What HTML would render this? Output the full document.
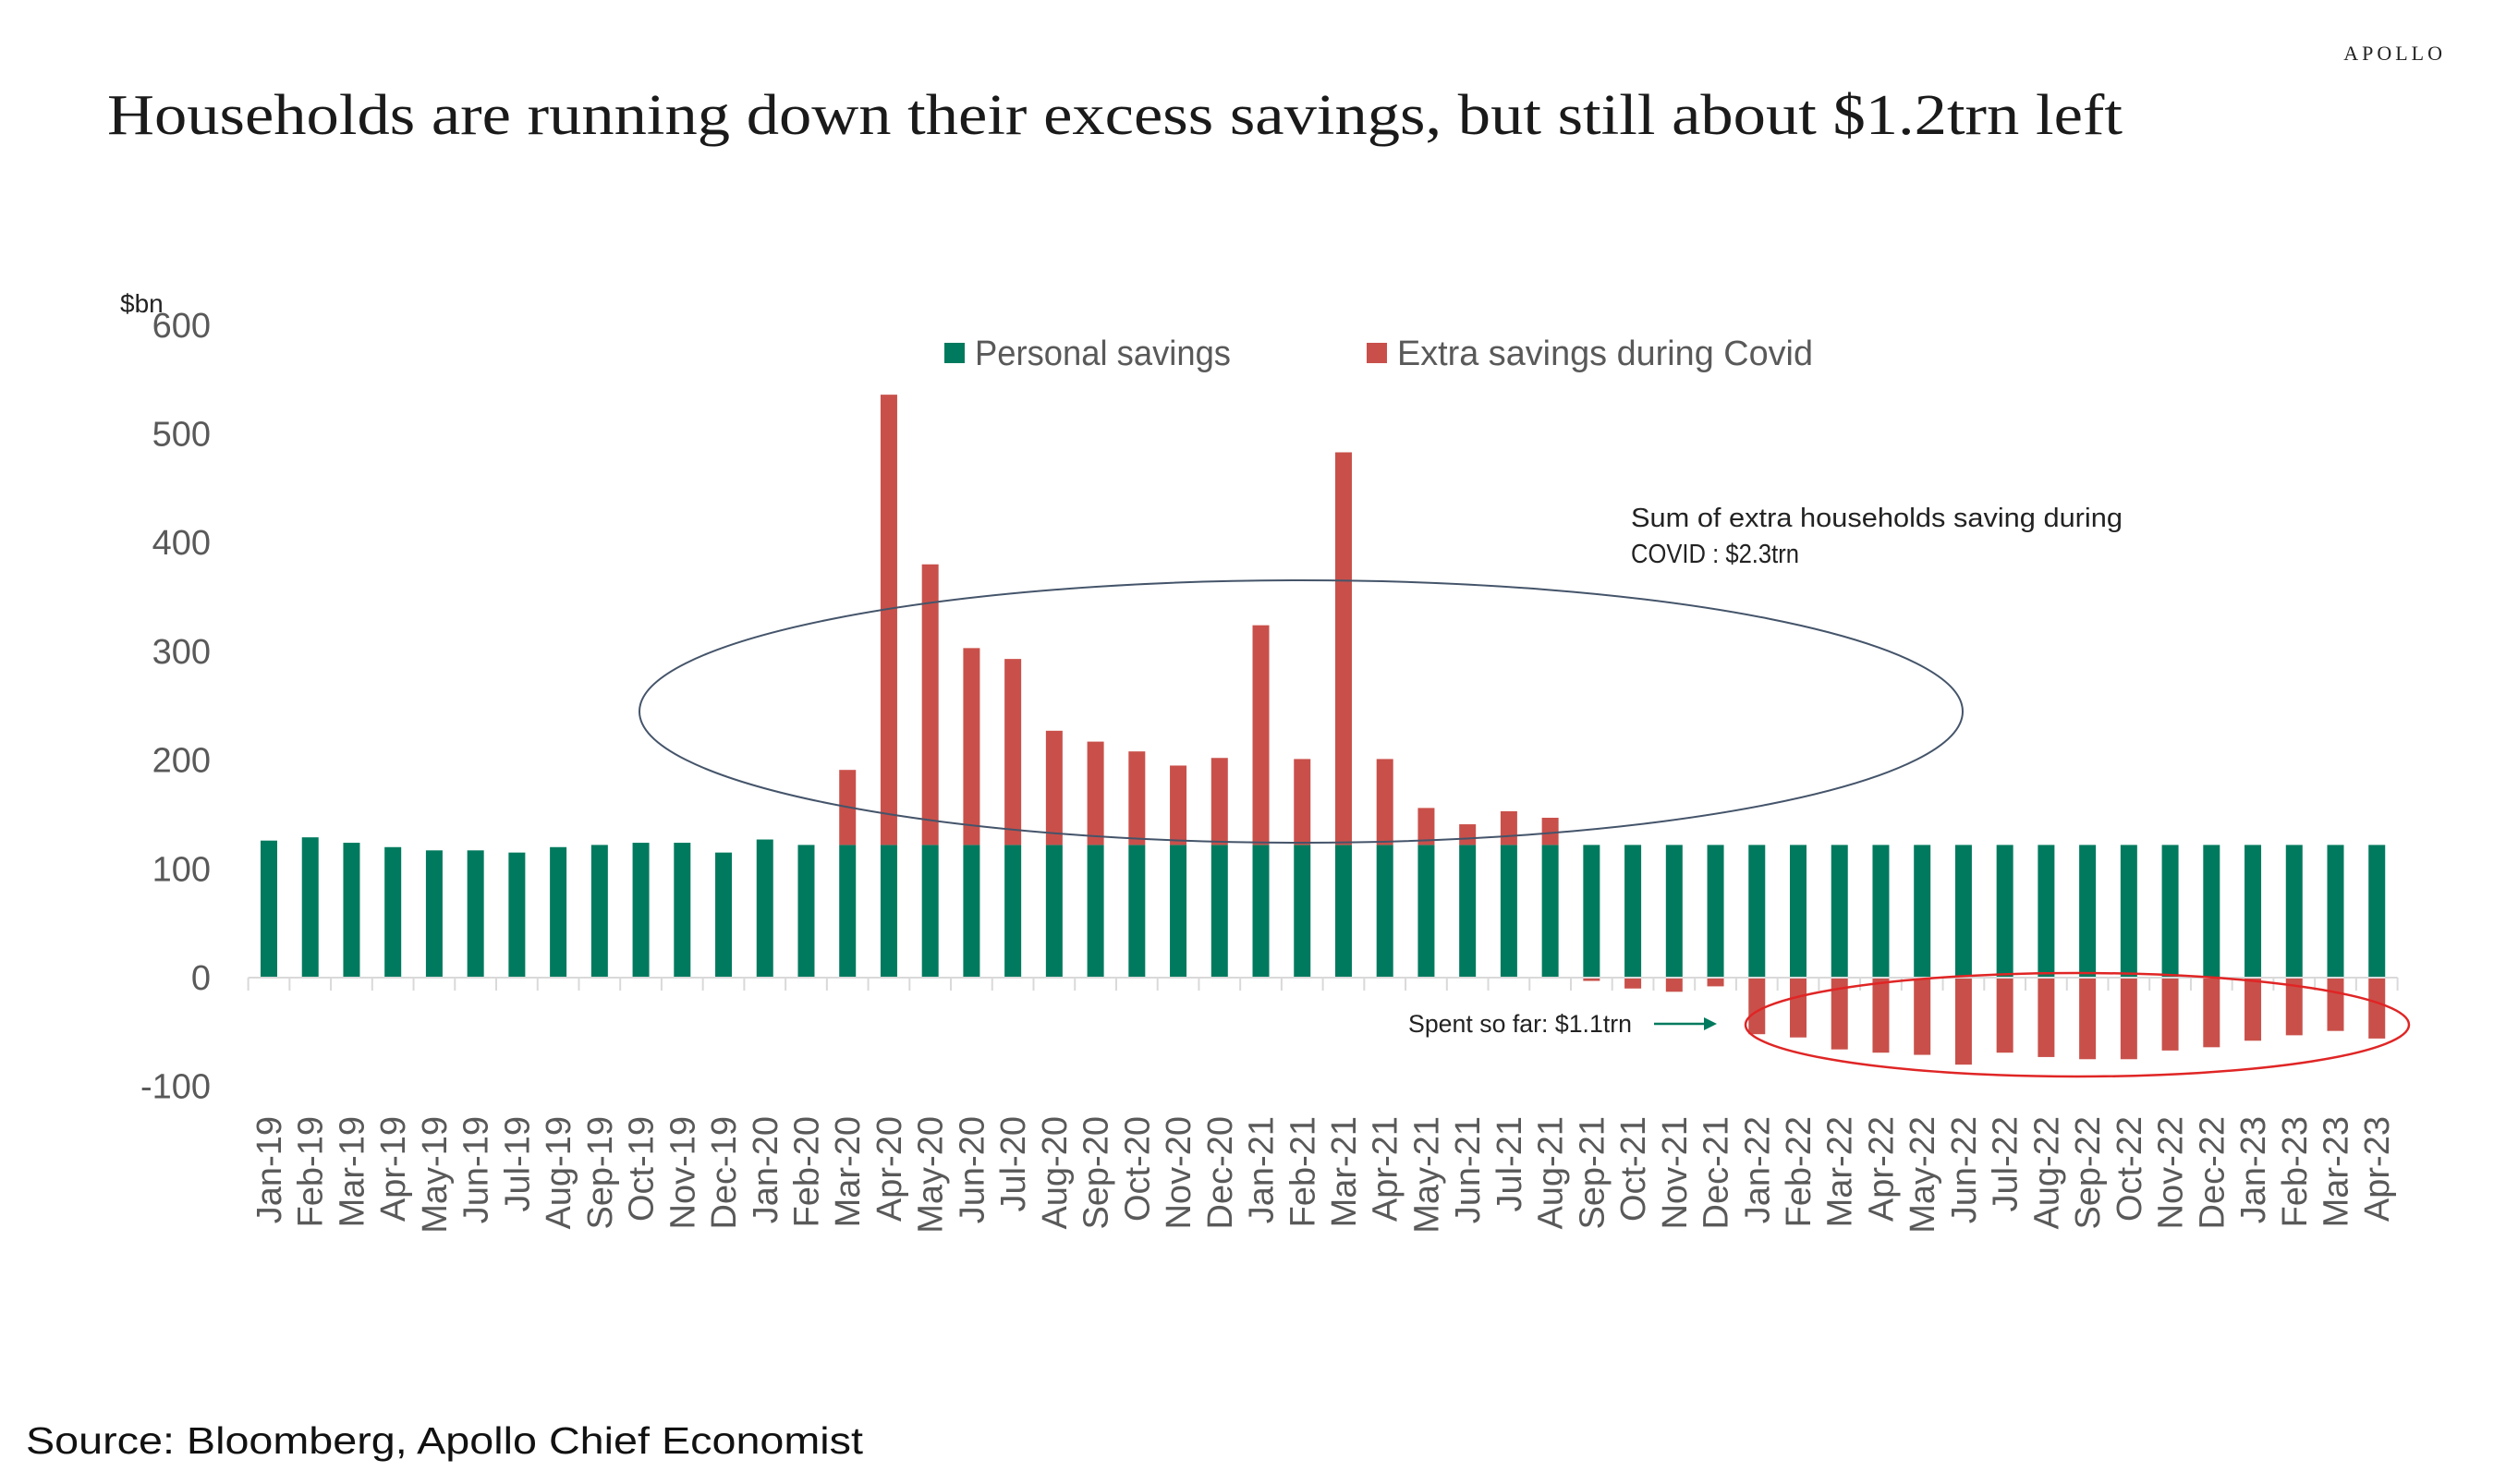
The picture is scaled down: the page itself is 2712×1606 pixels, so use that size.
<!DOCTYPE html>
<html><head><meta charset="utf-8">
<style>
html,body{margin:0;padding:0;background:#fff;}
svg{display:block;}
</style></head>
<body>
<svg id="chart" width="2712" height="1606" viewBox="0 0 2712 1606" xmlns="http://www.w3.org/2000/svg">
<text x="2647" y="65" text-anchor="end" font-family="Liberation Serif, serif" font-size="22" letter-spacing="4" fill="#222">APOLLO</text>
<text x="116" y="145" font-family="Liberation Serif, serif" font-size="62" fill="#1a1a1a" textLength="2181" lengthAdjust="spacingAndGlyphs">Households are running down their excess savings, but still about $1.2trn left</text>
<text x="130" y="338" font-family="Liberation Sans, sans-serif" font-size="28" fill="#222">$bn</text>
<g id="yticks"></g>
<g id="bars"></g>
<g id="xaxis"></g>
<g>
<rect x="1022" y="371" width="22" height="22" fill="#007a5e"/>
<text x="1055" y="395" font-family="Liberation Sans, sans-serif" font-size="38" fill="#595959" textLength="277" lengthAdjust="spacingAndGlyphs">Personal savings</text>
<rect x="1479" y="371" width="22" height="22" fill="#c9504a"/>
<text x="1512" y="395" font-family="Liberation Sans, sans-serif" font-size="38" fill="#595959" textLength="450" lengthAdjust="spacingAndGlyphs">Extra savings during Covid</text>
</g>
<ellipse cx="1408" cy="770" rx="716" ry="142" fill="none" stroke="#44546a" stroke-width="2"/>
<ellipse cx="2248" cy="1109" rx="359" ry="56" fill="none" stroke="#e02525" stroke-width="2.5"/>
<text x="1765" y="570" font-family="Liberation Sans, sans-serif" font-size="29" fill="#222" textLength="532" lengthAdjust="spacingAndGlyphs">Sum of extra households saving during</text>
<text x="1765" y="609" font-family="Liberation Sans, sans-serif" font-size="29" fill="#222" textLength="182" lengthAdjust="spacingAndGlyphs">COVID : $2.3trn</text>
<text x="1524" y="1117" font-family="Liberation Sans, sans-serif" font-size="27" fill="#222" textLength="242" lengthAdjust="spacingAndGlyphs">Spent so far: $1.1trn</text>
<g>
<line x1="1790" y1="1108" x2="1848" y2="1108" stroke="#007a5e" stroke-width="2.5"/>
<polygon points="1858,1108 1844,1101 1844,1115" fill="#007a5e"/>
</g>
<text x="28" y="1573" font-family="Liberation Sans, sans-serif" font-size="41" fill="#111" textLength="906" lengthAdjust="spacingAndGlyphs">Source: Bloomberg, Apollo Chief Economist</text>
</svg>
<script>
const categories = ["Jan-19","Feb-19","Mar-19","Apr-19","May-19","Jun-19","Jul-19","Aug-19","Sep-19","Oct-19","Nov-19","Dec-19","Jan-20","Feb-20","Mar-20","Apr-20","May-20","Jun-20","Jul-20","Aug-20","Sep-20","Oct-20","Nov-20","Dec-20","Jan-21","Feb-21","Mar-21","Apr-21","May-21","Jun-21","Jul-21","Aug-21","Sep-21","Oct-21","Nov-21","Dec-21","Jan-22","Feb-22","Mar-22","Apr-22","May-22","Jun-22","Jul-22","Aug-22","Sep-22","Oct-22","Nov-22","Dec-22","Jan-23","Feb-23","Mar-23","Apr-23"];
const personalSavings = [126,129,124,120,117,117,115,120,122,124,124,115,127,122,122,122,122,122,122,122,122,122,122,122,122,122,122,122,122,122,122,122,122,122,122,122,122,122,122,122,122,122,122,122,122,122,122,122,122,122,122,122];
const extraSavings = [0,0,0,0,0,0,0,0,0,0,0,0,0,0,69,414,258,181,171,105,95,86,73,80,202,79,361,79,34,19,31,25,-3,-10,-13,-8,-52,-55,-66,-69,-71,-80,-69,-73,-75,-75,-67,-64,-58,-53,-49,-56];
const yTicks = [-100,0,100,200,300,400,500,600];

const NS = "http://www.w3.org/2000/svg";
const zeroY = 1058, perUnit = 1.177;
const x0 = 291, step = 44.73, barW = 18;
function yScale(v){ return zeroY - v*perUnit; }
function xScale(i){ return x0 + i*step; }
function mk(tag, attrs){ const e=document.createElementNS(NS,tag); for(const k in attrs) e.setAttribute(k,attrs[k]); return e; }

const yg = document.getElementById('yticks');
yTicks.forEach(v=>{
  const t = mk('text',{x:228,y:yScale(v)+13,'text-anchor':'end','font-family':'Liberation Sans, sans-serif','font-size':38,fill:'#595959'});
  
  
  t.textContent = v;
  yg.appendChild(t);
});

const bg = document.getElementById('bars');
categories.forEach((c,i)=>{
  const cx = xScale(i);
  const p = personalSavings[i];
  const g = mk('rect',{x:cx-barW/2,y:yScale(p),width:barW,height:yScale(0)-yScale(p),fill:'#007a5e'});
  
  
  bg.appendChild(g);
  const e = extraSavings[i];
  if(e>0){
    const r = mk('rect',{x:cx-barW/2,y:yScale(p+e),width:barW,height:yScale(p)-yScale(p+e),fill:'#c9504a'});
    
    
    bg.appendChild(r);
  } else if(e<0){
    const r = mk('rect',{x:cx-barW/2,y:yScale(0),width:barW,height:yScale(e)-yScale(0),fill:'#c9504a'});
    
    
    bg.appendChild(r);
  }
});

const xg = document.getElementById('xaxis');
const axisL = xScale(0)-step/2, axisR = xScale(categories.length-1)+step/2;
const ax = mk('line',{x1:axisL,y1:zeroY,x2:axisR,y2:zeroY,stroke:'#d9d9d9','stroke-width':2});


xg.appendChild(ax);
for(let i=0;i<=categories.length;i++){
  const tx = xScale(i)-step/2;
  const tk = mk('line',{x1:tx,y1:zeroY,x2:tx,y2:zeroY+14,stroke:'#d9d9d9','stroke-width':2});
  
  
  xg.appendChild(tk);
}
categories.forEach((c,i)=>{
  const cx = xScale(i)+13;
  const t = mk('text',{x:cx,y:1208,'text-anchor':'end','font-family':'Liberation Sans, sans-serif','font-size':38,fill:'#595959',transform:`rotate(-90 ${cx} 1208)`});
  
  
  t.textContent = c;
  xg.appendChild(t);
});
</script>
</body></html>
